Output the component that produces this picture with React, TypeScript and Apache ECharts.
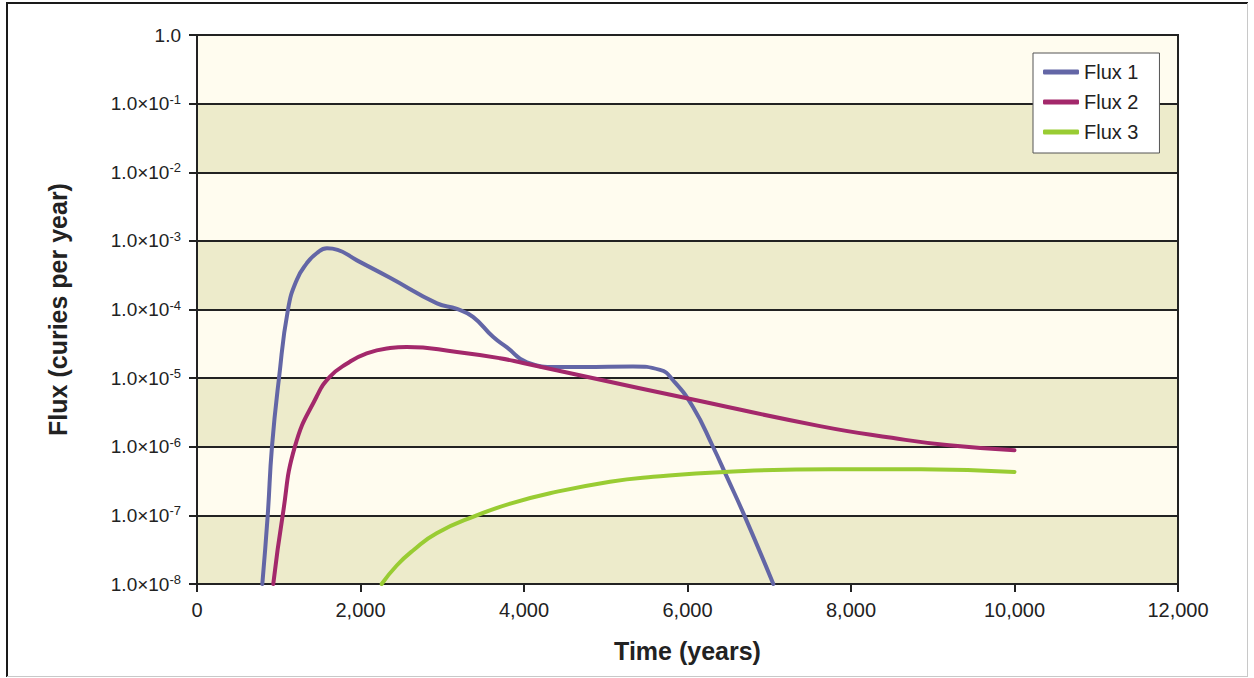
import React, { useEffect, useRef } from "react";
import * as echarts from "echarts";

// Time (years) / flux (curies per year) samples for each release pathway
const flux1Time = [799, 865, 917, 1003, 1113, 1220, 1342, 1464, 1590, 1720, 1957, 2361, 2936, 3180, 3376, 3621, 3792, 4037, 4404, 4722, 5333, 5664, 5823, 6067, 6312, 6483, 6695, 7050];
const flux1Value = [1e-8, 1e-7, 1e-6, 1e-5, 1e-4, 2.7e-4, 4.7e-4, 6.6e-4, 7.8e-4, 7.4e-4, 5.2e-4, 2.9e-4, 1.23e-4, 1.02e-4, 7.8e-5, 4.0e-5, 2.8e-5, 1.7e-5, 1.45e-5, 1.45e-5, 1.48e-5, 1.32e-5, 9.3e-6, 3.8e-6, 1.0e-6, 3.6e-7, 1.0e-7, 1e-8];

const flux2Time = [933, 1048, 1199, 1464, 1627, 1831, 2076, 2361, 2565, 3180, 3706, 3988, 4807, 5994, 7621, 8500, 9200, 10000];
const flux2Value = [1e-8, 1e-7, 1.02e-6, 5.4e-6, 1.05e-5, 1.62e-5, 2.3e-5, 2.75e-5, 2.85e-5, 2.4e-5, 1.95e-5, 1.66e-5, 1.02e-5, 5.1e-6, 2.0e-6, 1.35e-6, 1.05e-6, 8.9e-7];

const flux3Time = [2259, 2443, 2646, 2931, 3421, 3829, 4318, 5052, 5580, 6452, 7764, 8855, 10000];
const flux3Value = [1e-8, 1.86e-8, 3.1e-8, 5.5e-8, 1.0e-7, 1.48e-7, 2.1e-7, 3.1e-7, 3.65e-7, 4.3e-7, 4.7e-7, 4.7e-7, 4.3e-7];

const seriesNames = ["Flux 1", "Flux 2", "Flux 3"];
const seriesColors = ["#6366a6", "#a3286b", "#99cc33"];

const xMin = 0;
const xMax = 12000;
const xInterval = 2000;
const yMin = 1e-8;
const yMax = 1;

const xTitle = "Time (years)";
const yTitle = "Flux (curies per year)";

const FONT = "'Liberation Sans', Arial, Helvetica, sans-serif";
const INK = "#222";

const pairs = (t: number[], v: number[]) => t.map((x, i) => [x, v[i]]);

export default function App() {
  const ref = useRef<HTMLDivElement>(null);

  useEffect(() => {
    if (!ref.current) return;
    const chart = echarts.init(ref.current, null, { renderer: "svg" });

    const data = [
      pairs(flux1Time, flux1Value),
      pairs(flux2Time, flux2Value),
      pairs(flux3Time, flux3Value),
    ];

    chart.setOption({
      animation: false,
      backgroundColor: "#ffffff",
      textStyle: { fontFamily: FONT },
      grid: {
        left: 197,
        top: 35,
        right: 76,
        bottom: 94,
        show: true,
        borderColor: INK,
        borderWidth: 2,
        backgroundColor: "transparent",
        z: 3,
      },
      legend: {
        left: 1033,
        top: 53,
        orient: "vertical",
        backgroundColor: "#ffffff",
        borderColor: "#555",
        borderWidth: 1,
        borderRadius: 0,
        padding: [9, 21, 11, 10],
        itemGap: 10,
        itemWidth: 36,
        itemHeight: 5,
        icon: "roundRect",
        textStyle: { fontSize: 20, color: INK, fontFamily: FONT },
        data: seriesNames,
        z: 10,
      },
      xAxis: {
        type: "value",
        min: xMin,
        max: xMax,
        interval: xInterval,
        name: xTitle,
        nameLocation: "middle",
        nameGap: 54,
        nameTextStyle: { fontSize: 25, fontWeight: "bold", color: INK, fontFamily: FONT },
        axisLine: { show: true, onZero: false, lineStyle: { color: INK, width: 2 } },
        axisTick: { show: true, length: 8, lineStyle: { color: INK, width: 2 } },
        axisLabel: {
          fontSize: 20,
          color: INK,
          margin: 16,
          fontFamily: FONT,
          formatter: (v: number) => v.toLocaleString("en-US"),
        },
        splitLine: { show: false },
      },
      yAxis: {
        type: "log",
        logBase: 10,
        min: yMin,
        max: yMax,
        name: yTitle,
        nameLocation: "middle",
        nameRotate: 90,
        nameGap: 127,
        nameTextStyle: { fontSize: 25, fontWeight: "bold", color: INK, fontFamily: FONT },
        axisLine: { show: true, lineStyle: { color: INK, width: 2 } },
        axisTick: { show: true, length: 8, lineStyle: { color: INK, width: 2 } },
        axisLabel: {
          color: INK,
          margin: 16,
          fontFamily: FONT,
          formatter: (v: number) => {
            const e = Math.round(Math.log10(v));
            if (e === 0) return "{m|1.0}";
            return "{m|1.0×10}{s|" + e + "}";
          },
          rich: {
            m: { fontSize: 19, color: INK, fontFamily: FONT, lineHeight: 22 },
            s: { fontSize: 13, color: INK, fontFamily: FONT, verticalAlign: "top", lineHeight: 14 },
          },
        },
        splitLine: { show: true, lineStyle: { color: INK, width: 2 } },
        splitArea: { show: true, areaStyle: { color: ["#edebcb", "#fffcef"] } },
      },
      series: data.map((d, i) => ({
        name: seriesNames[i],
        type: "line",
        data: d,
        smooth: 0.5,
        showSymbol: false,
        symbol: "none",
        clip: true,
        color: seriesColors[i],
        lineStyle: { width: 4, color: seriesColors[i], cap: "round", join: "round" },
        z: 4,
      })),
      graphic: [
        { type: "line", shape: { x1: 6, y1: 3, x2: 1248, y2: 3 }, style: { stroke: "#1a1a1a", lineWidth: 2 } },
        { type: "line", shape: { x1: 7, y1: 3, x2: 7, y2: 677 }, style: { stroke: "#1a1a1a", lineWidth: 2 } },
        { type: "line", shape: { x1: 1247.5, y1: 3, x2: 1247.5, y2: 677 }, style: { stroke: "#c8c8c8", lineWidth: 1 } },
        { type: "line", shape: { x1: 7, y1: 676.5, x2: 1248, y2: 676.5 }, style: { stroke: "#c8c8c8", lineWidth: 1 } },
      ],
    });

    return () => chart.dispose();
  }, []);

  return (
    <div
      ref={ref}
      style={{ position: "absolute", left: 0, top: 0, width: 1254, height: 678 }}
    />
  );
}
